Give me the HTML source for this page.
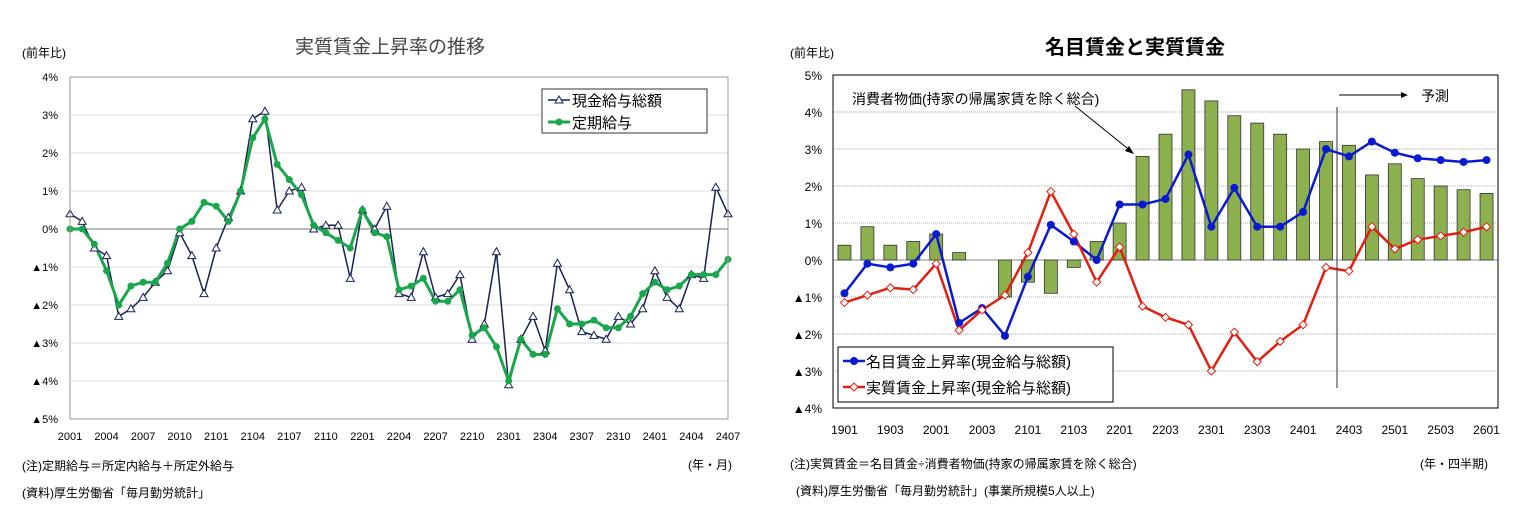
<!DOCTYPE html>
<html><head><meta charset="utf-8">
<style>
body{margin:0;background:#fff;width:1530px;height:527px;overflow:hidden;font-family:"Liberation Sans","Noto Sans CJK JP",sans-serif;}
svg{position:absolute;left:0;top:0}
text{font-family:"Liberation Sans","Noto Sans CJK JP",sans-serif;}
</style></head>
<body>
<svg id="s" width="1530" height="527">
<g>
<text x="390" y="53" font-size="19" fill="#444" text-anchor="middle">実質賃金上昇率の推移</text>
<text x="22" y="57" font-size="12">(前年比)</text>
<g id="lg"></g>
<rect x="70" y="77" width="658" height="342" fill="none" stroke="#999"/>
<g>
<rect x="542" y="89" width="165" height="44" fill="#fff" stroke="#333"/>
<line x1="548" y1="100" x2="570" y2="100" stroke="#1a2155" stroke-width="1.5"/>
<polygon points="559,96 563,103 555,103" fill="#fff" stroke="#1a2155"/>
<text x="572" y="106" font-size="15">現金給与総額</text>
<line x1="548" y1="122" x2="570" y2="122" stroke="#1aa64a" stroke-width="3"/>
<circle cx="559" cy="122" r="3.5" fill="#1aa64a"/>
<text x="572" y="128" font-size="15">定期給与</text>
</g>
<text x="22" y="470" font-size="12">(注)定期給与＝所定内給与＋所定外給与</text>
<text x="22" y="497" font-size="12">(資料)厚生労働省「毎月勤労統計」</text>
<text x="688" y="469" font-size="12">(年・月)</text>
</g>
<g>
<text x="1135" y="54" font-size="20" font-weight="bold" text-anchor="middle">名目賃金と実質賃金</text>
<text x="790" y="57" font-size="12">(前年比)</text>
<g id="rg"></g>
<rect x="833" y="75" width="665" height="333" fill="none" stroke="#000"/>
<text x="852" y="104" font-size="14">消費者物価(持家の帰属家賃を除く総合)</text>
<line x1="1075" y1="106" x2="1132" y2="152" stroke="#000"/>
<polygon points="1134,154 1125,151 1129,146" fill="#000"/>
<line x1="1337" y1="107" x2="1337" y2="388" stroke="#333"/>
<line x1="1339" y1="95" x2="1403" y2="95" stroke="#000"/>
<polygon points="1408,95 1401,92 1401,98" fill="#000"/>
<text x="1421" y="101" font-size="14">予測</text>
<g>
<rect x="838" y="347" width="275" height="55" fill="#fff" stroke="#000"/>
<line x1="843" y1="361" x2="865" y2="361" stroke="#0a1ad0" stroke-width="2.5"/>
<circle cx="854" cy="361" r="4" fill="#0a1ad0"/>
<text x="866" y="367" font-size="15">名目賃金上昇率(現金給与総額)</text>
<line x1="843" y1="387" x2="865" y2="387" stroke="#e02010" stroke-width="2.5"/>
<polygon points="854,383 858,387 854,391 850,387" fill="#fff" stroke="#e02010"/>
<text x="866" y="393" font-size="15">実質賃金上昇率(現金給与総額)</text>
</g>
<text x="790" y="468" font-size="12">(注)実質賃金＝名目賃金÷消費者物価(持家の帰属家賃を除く総合)</text>
<text x="796" y="495" font-size="12">(資料)厚生労働省「毎月勤労統計」(事業所規模5人以上)</text>
<text x="1420" y="468" font-size="12">(年・四半期)</text>
</g>
</svg>
<script>
// ---- Left chart data ----
const leftTicks=["2001","2004","2007","2010","2101","2104","2107","2110","2201","2204","2207","2210","2301","2304","2307","2310","2401","2404","2407"];
const leftYTicks=[4,3,2,1,0,-1,-2,-3,-4,-5];
const genkin=[0.4,0.2,-0.5,-0.7,-2.3,-2.1,-1.8,-1.4,-1.1,-0.1,-0.7,-1.7,-0.5,0.3,1.0,2.9,3.1,0.5,1.0,1.1,0.0,0.1,0.1,-1.3,0.5,0.0,0.6,-1.7,-1.8,-0.6,-1.8,-1.7,-1.2,-2.9,-2.5,-0.6,-4.1,-2.9,-2.3,-3.2,-0.9,-1.6,-2.7,-2.8,-2.9,-2.3,-2.5,-2.1,-1.1,-1.8,-2.1,-1.2,-1.3,1.1,0.4];
const teiki=[0,0,-0.4,-1.1,-2.0,-1.5,-1.4,-1.4,-0.9,0,0.2,0.7,0.6,0.2,1.0,2.4,2.9,1.7,1.3,0.9,0.1,-0.1,-0.3,-0.5,0.5,-0.1,-0.2,-1.6,-1.5,-1.3,-1.9,-1.9,-1.6,-2.8,-2.6,-3.1,-4.0,-2.9,-3.3,-3.3,-2.1,-2.5,-2.5,-2.4,-2.6,-2.6,-2.3,-1.7,-1.4,-1.6,-1.5,-1.2,-1.2,-1.2,-0.8];
// ---- Right chart data ----
const rightCats=["1901","1902","1903","1904","2001","2002","2003","2004","2101","2102","2103","2104","2201","2202","2203","2204","2301","2302","2303","2304","2401","2402","2403","2404","2501","2502","2503","2504","2601"];
const rightYTicks=[5,4,3,2,1,0,-1,-2,-3,-4];
const cpi=[0.4,0.9,0.4,0.5,0.7,0.2,0,-1.0,-0.6,-0.9,-0.2,0.5,1.0,2.8,3.4,4.6,4.3,3.9,3.7,3.4,3.0,3.2,3.1,2.3,2.6,2.2,2.0,1.9,1.8];
const nominal=[-0.9,-0.1,-0.2,-0.1,0.7,-1.7,-1.3,-2.05,-0.45,0.95,0.5,0.0,1.5,1.5,1.65,2.85,0.9,1.95,0.9,0.9,1.3,3.0,2.8,3.2,2.9,2.75,2.7,2.65,2.7];
const real=[-1.15,-0.95,-0.75,-0.8,-0.1,-1.9,-1.35,-0.95,0.2,1.85,0.7,-0.6,0.35,-1.25,-1.55,-1.75,-3.0,-1.95,-2.75,-2.2,-1.75,-0.2,-0.3,0.9,0.3,0.55,0.65,0.75,0.9];

const NS="http://www.w3.org/2000/svg";
function mk(p,tag,a){const e=document.createElementNS(NS,tag);for(const k in a)e.setAttribute(k,a[k]);p.appendChild(e);return e;}
function lab(v){return v<0?"▲"+(-v)+"%":v+"%";}

// Left
const lg=document.getElementById('lg');
const lx=i=>70+i*(658/(genkin.length-1));
const ly=v=>229-v*38;
leftYTicks.forEach(v=>{
  const g=mk(lg,'line',{x1:70,x2:728,y1:ly(v),y2:ly(v),stroke:v===0?'#777':'#ddd'});
  
  
  const t=mk(lg,'text',{x:58,y:ly(v)+4,'font-size':11,'text-anchor':'end'});t.textContent=lab(v);
  
  
});
leftTicks.forEach((s,k)=>{
  const t=mk(lg,'text',{x:lx(k*3),y:440,'font-size':11,'text-anchor':'middle'});t.textContent=s;
  
  
});
let p1=mk(lg,'polyline',{points:genkin.map((v,i)=>lx(i)+','+ly(v)).join(' '),fill:'none',stroke:'#1a2155','stroke-width':1.5});


let p2=mk(lg,'polyline',{points:teiki.map((v,i)=>lx(i)+','+ly(v)).join(' '),fill:'none',stroke:'#1aa64a','stroke-width':3});


genkin.forEach((v,i)=>{const x=lx(i),y=ly(v);
  const m=mk(lg,'polygon',{points:`${x},${y-4} ${x+4},${y+3} ${x-4},${y+3}`,fill:'#fff',stroke:'#1a2155'});
  
  });
teiki.forEach((v,i)=>{
  const m=mk(lg,'circle',{cx:lx(i),cy:ly(v),r:3.5,fill:'#1aa64a'});
  
  });

// Right
const rg=document.getElementById('rg');
const cw=665/rightCats.length;
const rx=i=>833+cw*(i+0.5);
const ry=v=>260-v*37;
rightYTicks.forEach(v=>{
  const g=mk(rg,'line',{x1:833,x2:1498,y1:ry(v),y2:ry(v),stroke:v===0?'#888':'#aaa','stroke-dasharray':v===0?'':'1,1'});
  
  
  const t=mk(rg,'text',{x:822,y:ry(v)+5,'font-size':12,'text-anchor':'end'});t.textContent=lab(v);
  
  
});
rightCats.forEach((s,i)=>{if(i%2)return;
  const t=mk(rg,'text',{x:rx(i),y:434,'font-size':12,'text-anchor':'middle'});t.textContent=s;
  
  
});
cpi.forEach((v,i)=>{
  const y=Math.min(ry(v),ry(0)),h=Math.abs(ry(v)-ry(0));
  const b=mk(rg,'rect',{x:rx(i)-6.5,y:y,width:13,height:h,fill:'#8db04e',stroke:'#333','stroke-width':0.8});
  
  
});
let p3=mk(rg,'polyline',{points:nominal.map((v,i)=>rx(i)+','+ry(v)).join(' '),fill:'none',stroke:'#0a1ad0','stroke-width':2.5});


let p4=mk(rg,'polyline',{points:real.map((v,i)=>rx(i)+','+ry(v)).join(' '),fill:'none',stroke:'#e02010','stroke-width':2.5});


nominal.forEach((v,i)=>{
  const m=mk(rg,'circle',{cx:rx(i),cy:ry(v),r:4,fill:'#0a1ad0'});
  
  });
real.forEach((v,i)=>{const x=rx(i),y=ry(v);
  const m=mk(rg,'polygon',{points:`${x},${y-4} ${x+4},${y} ${x},${y+4} ${x-4},${y}`,fill:'#fff',stroke:'#e02010'});
  
  });
</script>
</body></html>
